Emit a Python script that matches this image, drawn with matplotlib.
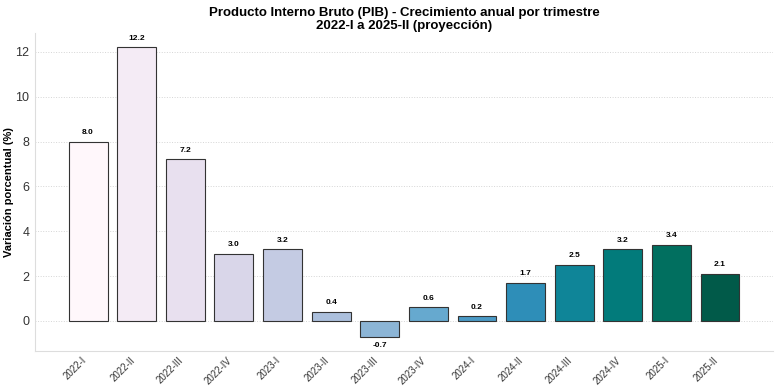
import matplotlib.pyplot as plt
import numpy as np

trimestres = ['2022-I', '2022-II', '2022-III', '2022-IV',
              '2023-I', '2023-II', '2023-III', '2023-IV',
              '2024-I', '2024-II', '2024-III', '2024-IV',
              '2025-I', '2025-II']
crecimiento = [8.0, 12.2, 7.2, 3.0, 3.2, 0.4, -0.7, 0.6, 0.2, 1.7, 2.5, 3.2, 3.4, 2.1]

plt.rcParams['font.family'] = ['Liberation Sans', 'DejaVu Sans']

fig = plt.figure(figsize=(7.8, 3.87), dpi=100)
ax = fig.add_axes([0.045, 0.093, 0.946, 0.822])

colores = plt.cm.PuBuGn(np.linspace(0.0, 0.93, len(crecimiento)))
x = np.arange(len(trimestres))
bars = ax.bar(x, crecimiento, width=0.8, color=colores, edgecolor='#333333', linewidth=0.8)

for b, v in zip(bars, crecimiento):
    if v >= 0:
        ax.text(b.get_x() + b.get_width() / 2, v + 0.25, f'{v:.1f}',
                ha='center', va='bottom', fontsize=6, fontweight='bold')
    else:
        ax.text(b.get_x() + b.get_width() / 2, v - 0.25, f'{v:.1f}',
                ha='center', va='top', fontsize=6, fontweight='bold')

ax.set_xticks(x)
ax.set_xticklabels(trimestres, rotation=45, fontsize=7, ha='right', color='#333333')
ax.tick_params(axis='x', length=0, pad=3)
ax.tick_params(axis='y', length=0, labelsize=9, pad=4, labelcolor='#333333')
ax.set_ylabel('Variación porcentual (%)', fontsize=8, fontweight='bold', labelpad=1)
ax.set_title('Producto Interno Bruto (PIB) - Crecimiento anual por trimestre\n2022-I a 2025-II (proyección)',
             fontsize=9.5, fontweight='bold', pad=3, linespacing=1.1)

ax.yaxis.grid(True, linestyle=':', color='#d5d5d5', linewidth=0.7)
ax.set_axisbelow(True)
for s in ['top', 'right']:
    ax.spines[s].set_visible(False)
for s in ['left', 'bottom']:
    ax.spines[s].set_color('#dddddd')

fig.savefig('out.png', dpi=100)
